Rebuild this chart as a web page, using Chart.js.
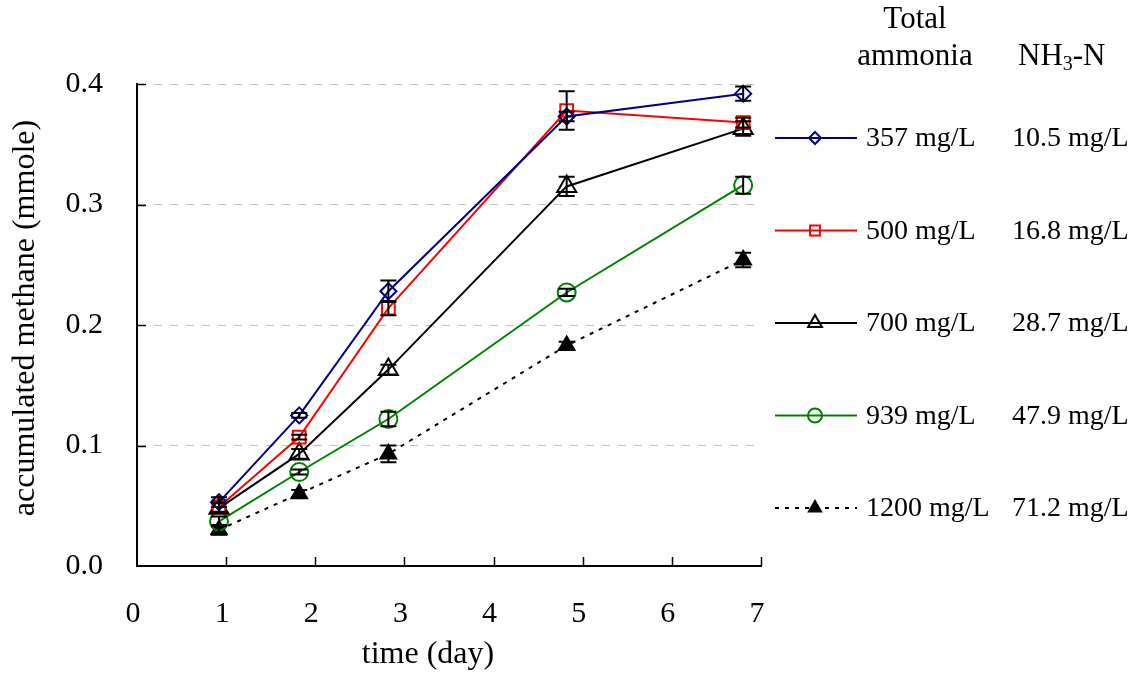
<!DOCTYPE html>
<html>
<head>
<meta charset="utf-8">
<script src="https://cdn.jsdelivr.net/npm/chart.js@4.4.1/dist/chart.umd.min.js"></script>
<style>
  html, body { margin: 0; padding: 0; background: #fff; }
  #wrap { width: 1140px; height: 675px; }
</style>
</head>
<body>
<div id="wrap"><canvas id="methaneChart" width="1140" height="675"></canvas></div>
<script>
// sampling days
const days = [0.92, 1.82, 2.82, 4.82, 6.8];

// accumulated methane (mmole) per total ammonia level
const m357 = [0.053, 0.125, 0.228, 0.373, 0.392];
const m500 = [0.049, 0.107, 0.214, 0.378, 0.368];
const m700 = [0.048, 0.093, 0.163, 0.315, 0.363];
const m939 = [0.037, 0.078, 0.122, 0.227, 0.316];
const m1200 = [0.030, 0.060, 0.093, 0.183, 0.254];

// error bar half widths
const e357 = [0.004, 0.002, 0.009, 0.004, 0.006];
const e500 = [0.004, 0.002, 0.006, 0.016, 0.004];
const e700 = [0.004, 0.004, 0.004, 0.008, 0.006];
const e939 = [0.004, 0.002, 0.006, 0.003, 0.007];
const e1200 = [0.004, 0.003, 0.007, 0.003, 0.006];

const totalAmmonia = ['357 mg/L', '500 mg/L', '700 mg/L', '939 mg/L', '1200 mg/L'];
const nh3n = ['10.5 mg/L', '16.8 mg/L', '28.7 mg/L', '47.9 mg/L', '71.2 mg/L'];

const xTicks = [0, 1, 2, 3, 4, 5, 6, 7];
const yTicks = [0, 0.1, 0.2, 0.3, 0.4];

const SERIF = '"Liberation Serif", "Times New Roman", serif';

const toPoints = vals => days.map((d, i) => ({ x: d, y: vals[i] }));

const series = [
  { vals: m357, err: e357, color: '#000080', style: 'rectRot', r: 8, lr: 6, fill: 'transparent', dash: [] },
  { vals: m500, err: e500, color: '#ff0000', style: 'rect', r: 9, lr: 7, fill: 'transparent', dash: [] },
  { vals: m700, err: e700, color: '#000000', style: 'triangle', r: 11, lr: 8, fill: 'transparent', dash: [] },
  { vals: m939, err: e939, color: '#008000', style: 'circle', r: 9, lr: 7, fill: 'transparent', dash: [] },
  { vals: m1200, err: e1200, color: '#000000', style: 'triangle', r: 9, lr: 7, fill: '#000000', dash: [4, 6] }
];

const datasets = series.map((s, i) => ({
  label: totalAmmonia[i],
  data: toPoints(s.vals),
  errors: s.err,
  legendRadius: s.lr,
  borderColor: s.color,
  backgroundColor: s.color,
  borderWidth: 2,
  borderDash: s.dash,
  pointStyle: s.style,
  pointRadius: s.r,
  pointBorderWidth: 2,
  pointBorderColor: s.color,
  pointBackgroundColor: s.fill,
  tension: 0
}));

const extras = {
  id: 'extras',
  afterDatasetsDraw(chart) {
    const { ctx, scales: { x, y } } = chart;
    ctx.save();
    ctx.strokeStyle = '#000';
    ctx.lineWidth = 2;
    chart.data.datasets.forEach(ds => {
      ds.data.forEach((p, i) => {
        const e = ds.errors[i];
        const px = x.getPixelForValue(p.x);
        const top = y.getPixelForValue(p.y + e);
        const bot = y.getPixelForValue(p.y - e);
        ctx.beginPath();
        ctx.moveTo(px, top); ctx.lineTo(px, bot);
        ctx.moveTo(px - 8, top); ctx.lineTo(px + 8, top);
        ctx.moveTo(px - 8, bot); ctx.lineTo(px + 8, bot);
        ctx.stroke();
      });
    });
    ctx.restore();
  },
  afterDraw(chart) {
    const { ctx, chartArea, scales: { x, y } } = chart;
    ctx.save();
    // inner tick marks
    ctx.strokeStyle = '#000';
    ctx.lineWidth = 1.5;
    ctx.beginPath();
    xTicks.slice(1).forEach(v => {
      const px = Math.round(x.getPixelForValue(v)) + 0.5;
      ctx.moveTo(px, chartArea.bottom);
      ctx.lineTo(px, chartArea.bottom - 9);
    });
    yTicks.slice(1).forEach(v => {
      const py = Math.round(y.getPixelForValue(v)) + 0.5;
      ctx.moveTo(chartArea.left, py);
      ctx.lineTo(chartArea.left + 9, py);
    });
    ctx.stroke();

    // axis titles
    ctx.fillStyle = '#000';
    ctx.font = '32px ' + SERIF;
    ctx.textAlign = 'center';
    ctx.textBaseline = 'middle';
    ctx.fillText('time (day)', 428, 655);
    ctx.save();
    ctx.translate(34, 318);
    ctx.rotate(-Math.PI / 2);
    ctx.textBaseline = 'alphabetic';
    ctx.fillText('accumulated methane (mmole)', 0, 0);
    ctx.restore();

    // legend header
    ctx.font = '31px ' + SERIF;
    ctx.textBaseline = 'middle';
    ctx.fillText('Total', 915, 20);
    ctx.fillText('ammonia', 915, 57);
    ctx.textAlign = 'left';
    let hx = 1018;
    ctx.fillText('NH', hx, 57);
    hx += ctx.measureText('NH').width;
    ctx.font = '20px ' + SERIF;
    ctx.fillText('3', hx, 65);
    hx += ctx.measureText('3').width;
    ctx.font = '31px ' + SERIF;
    ctx.fillText('-N', hx, 57);

    // legend rows
    chart.data.datasets.forEach((ds, i) => {
      const ly = 138 + i * 92.5;
      ctx.save();
      ctx.strokeStyle = ds.borderColor;
      ctx.lineWidth = 2;
      ctx.setLineDash(ds.borderDash);
      ctx.beginPath();
      ctx.moveTo(775, ly);
      ctx.lineTo(857, ly);
      ctx.stroke();
      ctx.restore();
      ctx.save();
      ctx.strokeStyle = ds.pointBorderColor;
      ctx.fillStyle = ds.pointBackgroundColor;
      ctx.lineWidth = 2;
      Chart.helpers.drawPoint(ctx, {
        pointStyle: ds.pointStyle,
        radius: ds.legendRadius,
        rotation: 0,
        borderWidth: 2
      }, 815, ly);
      ctx.restore();
      ctx.fillStyle = '#000';
      ctx.font = '28px ' + SERIF;
      ctx.textAlign = 'left';
      ctx.textBaseline = 'middle';
      ctx.fillText(totalAmmonia[i], 866, ly + 1);
      ctx.fillText(nh3n[i], 1012, ly + 1);
    });
    ctx.restore();
  }
};

new Chart(document.getElementById('methaneChart'), {
  type: 'line',
  data: { datasets },
  options: {
    responsive: false,
    animation: false,
    layout: { padding: { left: 0, top: 84, right: 379, bottom: 0 } },
    plugins: {
      legend: { display: false },
      tooltip: { enabled: false }
    },
    scales: {
      x: {
        type: 'linear',
        min: 0,
        max: 7,
        afterFit: s => { s.height = 109; },
        afterBuildTicks: s => { s.ticks = xTicks.map(v => ({ value: v })); },
        grid: { display: false, drawTicks: false },
        border: { display: true, color: '#000', width: 2 },
        ticks: {
          color: '#000',
          padding: 30,
          labelOffset: -4,
          font: { family: SERIF, size: 30 }
        }
      },
      y: {
        type: 'linear',
        min: 0,
        max: 0.4,
        afterFit: s => { s.width = 137; },
        afterBuildTicks: s => { s.ticks = yTicks.map(v => ({ value: v })); },
        grid: {
          drawTicks: false,
          color: c => (c.tick && c.tick.value === 0 ? 'rgba(0,0,0,0)' : '#c0c0c0'),
          lineWidth: 1
        },
        border: { display: true, color: '#000', width: 2, dash: [8, 8] },
        ticks: {
          color: '#000',
          padding: 34,
          font: { family: SERIF, size: 30 },
          callback: v => v.toFixed(1)
        }
      }
    }
  },
  plugins: [extras]
});
</script>
</body>
</html>
